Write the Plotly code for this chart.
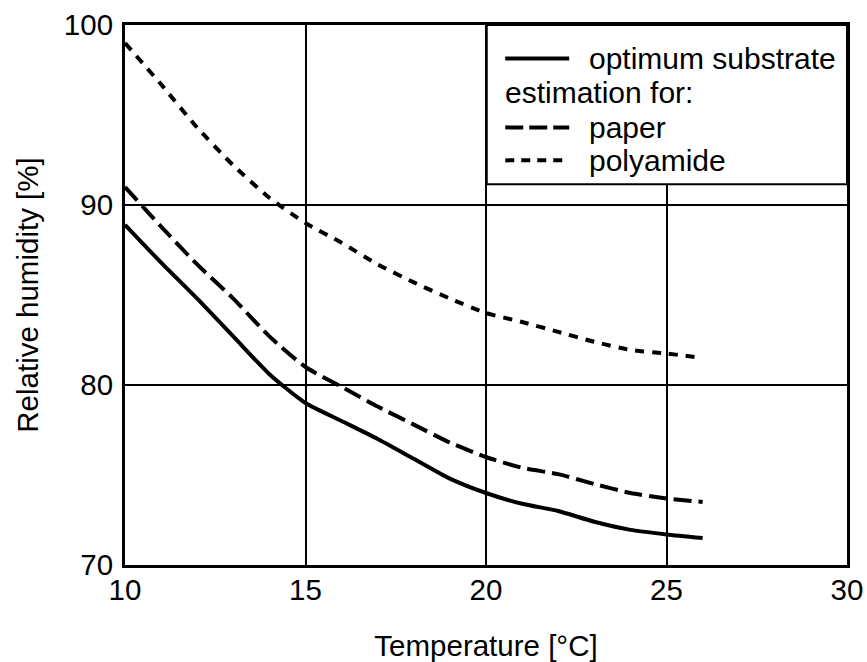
import plotly.graph_objects as go

# ---- data ----
temperature = [10, 11, 12, 13, 14, 15, 16, 17, 18, 19, 20, 21, 22, 23, 24, 25, 26]
optimum = [88.9, 86.8, 84.8, 82.7, 80.6, 79.0, 78.0, 77.0, 75.9, 74.8, 74.0, 73.4, 73.0, 72.4, 71.95, 71.7, 71.5]
paper = [91.0, 88.8, 86.7, 84.8, 82.7, 81.0, 79.9, 78.8, 77.8, 76.8, 76.0, 75.4, 75.05, 74.5, 74.0, 73.7, 73.5]
polyamide = [99.0, 96.7, 94.3, 92.2, 90.4, 89.0, 87.9, 86.7, 85.7, 84.8, 84.0, 83.5, 82.95, 82.4, 81.95, 81.75, 81.5]

x_ticks = [10, 15, 20, 25, 30]
y_ticks = [70, 80, 90, 100]
legend_labels = ["optimum substrate", "estimation for:", "paper", "polyamide"]

FONT = "Liberation Sans, Arial, sans-serif"
TICK_SIZE = 29.5
TITLE_SIZE = 29.5
LEG_SIZE = 30
W, H = 867, 662
ML, MR, MT, MB = 124.5, 20, 24.5, 97
PW, PH = W - ML - MR, H - MT - MB


def px_x(px):
    return (px - ML) / PW


def px_y(py):
    return (H - MB - py) / PH


fig = go.Figure()
styles = [
    (optimum, "solid"),
    (paper, "18px,7px"),
    (polyamide, "9px,8px"),
]
for vals, dash in styles:
    fig.add_trace(go.Scatter(
        x=temperature, y=vals, mode="lines",
        line=dict(color="black", width=4, dash=dash, shape="spline", smoothing=0.6),
        showlegend=False, hoverinfo="skip",
    ))

# legend box (covers the gridlines)
shapes = [dict(
    type="rect", xref="paper", yref="paper",
    x0=px_x(486.5), x1=1, y0=px_y(184), y1=1,
    line=dict(color="black", width=2), fillcolor="white", layer="above",
)]
annotations = []
rows = [(58, legend_labels[0], "solid"), (92, legend_labels[1], None),
        (127, legend_labels[2], "18px,6px"), (160, legend_labels[3], "9px,7px")]
for py, text, dash in rows:
    if dash is None:
        annotations.append(dict(xref="paper", yref="paper", x=px_x(503), y=px_y(py),
                                xanchor="left", yanchor="middle", showarrow=False,
                                text=text, font=dict(family=FONT, size=LEG_SIZE, color="black")))
    else:
        shapes.append(dict(type="line", xref="paper", yref="paper",
                           x0=px_x(505), x1=px_x(569), y0=px_y(py), y1=px_y(py),
                           line=dict(color="black", width=4, dash=dash), layer="above"))
        annotations.append(dict(xref="paper", yref="paper", x=px_x(587), y=px_y(py),
                                xanchor="left", yanchor="middle", showarrow=False,
                                text=text, font=dict(family=FONT, size=LEG_SIZE, color="black")))

axis_common = dict(
    showline=True, linecolor="black", linewidth=3, mirror=True,
    showgrid=True, gridcolor="black", gridwidth=1.8,
    ticks="", zeroline=False, automargin=False,
    tickfont=dict(family=FONT, size=TICK_SIZE, color="black"),
)

fig.update_layout(
    width=W, height=H,
    margin=dict(l=ML, r=MR, t=MT, b=MB, pad=0, autoexpand=False),
    paper_bgcolor="white", plot_bgcolor="white",
    xaxis=dict(range=[10, 30], tickvals=x_ticks, ticktext=[str(v) for v in x_ticks],
               title=dict(text="Temperature [°C]", font=dict(family=FONT, size=TITLE_SIZE, color="black"),
                          standoff=30),
               ticklabelstandoff=-3, **axis_common),
    yaxis=dict(range=[70, 100], tickvals=y_ticks, ticktext=[str(v) for v in y_ticks],
               title=dict(text="Relative humidity [%]", font=dict(family=FONT, size=TITLE_SIZE, color="black"),
                          standoff=17),
               ticklabelstandoff=3, **axis_common),
    shapes=shapes, annotations=annotations,
)

fig.write_html("out.html")
